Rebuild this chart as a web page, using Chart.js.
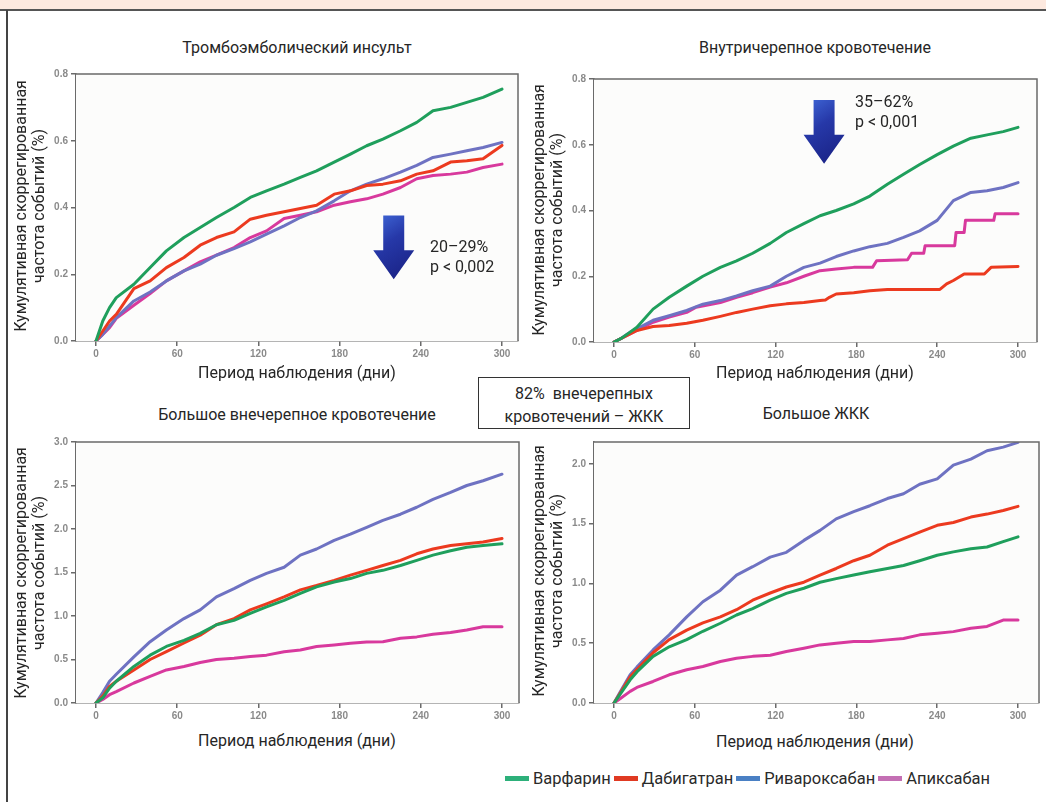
<!DOCTYPE html>
<html>
<head>
<meta charset="utf-8">
<script src="https://cdn.jsdelivr.net/npm/chart.js@4.4.1/dist/chart.umd.min.js"></script>
<style>
html,body{margin:0;padding:0;}
body{width:1046px;height:802px;position:relative;overflow:hidden;background:#fff;font-family:Roboto,"Noto Sans",sans-serif;color:#262626;}
.band{position:absolute;left:0;top:0;width:1046px;height:9px;background:#fde9df;border-bottom:2px solid #555;}
.lborder{position:absolute;left:6px;top:10px;width:2px;height:800px;background:#444;}
canvas{position:absolute;}
.t{position:absolute;white-space:nowrap;transform:translate(-50%,-50%);font-size:16px;line-height:1;z-index:2;}
.yt{position:absolute;white-space:nowrap;transform:translate(-50%,-50%) rotate(-90deg);font-size:16px;line-height:18px;text-align:center;z-index:2;}
.note{position:absolute;font-size:16px;line-height:20px;z-index:2;white-space:nowrap;}
.box{position:absolute;left:478px;top:377px;width:212px;height:52px;border:1.5px solid #333;background:#fff;font-size:16px;line-height:23px;text-align:center;z-index:3;padding-top:4px;box-sizing:border-box;}
.legend{position:absolute;left:505px;top:769px;display:flex;align-items:center;font-size:16.5px;white-space:nowrap;color:#2a2a2a;}
.legend .sw{display:inline-block;width:24px;height:5px;margin-right:4px;}
.legend .lab{margin-right:3px;}
</style>
</head>
<body>
<div class="band"></div>
<div class="lborder"></div>

<canvas id="c1"></canvas>
<canvas id="c2"></canvas>
<canvas id="c3"></canvas>
<canvas id="c4"></canvas>

<div class="t" style="left:297px;top:48px">Тромбоэмболический инсульт</div>
<div class="t" style="left:815px;top:48px">Внутричерепное кровотечение</div>
<div class="t" style="left:297px;top:415px">Большое внечерепное кровотечение</div>
<div class="t" style="left:816px;top:414px">Большое ЖКК</div>

<div class="t" style="left:297px;top:373px">Период наблюдения (дни)</div>
<div class="t" style="left:815px;top:373px">Период наблюдения (дни)</div>
<div class="t" style="left:297px;top:741px">Период наблюдения (дни)</div>
<div class="t" style="left:815px;top:742px">Период наблюдения (дни)</div>

<div class="yt" style="left:30px;top:206px">Кумулятивная скоррегированная<br>частота событий (%)</div>
<div class="yt" style="left:548px;top:210px">Кумулятивная скоррегированная<br>частота событий (%)</div>
<div class="yt" style="left:30px;top:573px">Кумулятивная скоррегированная<br>частота событий (%)</div>
<div class="yt" style="left:548px;top:571px">Кумулятивная скоррегированная<br>частота событий (%)</div>

<div class="note" style="left:430px;top:237px">20–29%<br>p &lt; 0,002</div>
<div class="note" style="left:855px;top:92px">35–62%<br>p &lt; 0,001</div>

<div class="box">82%&nbsp; внечерепных<br>кровотечений – ЖКК</div>

<div class="legend">
  <span class="sw" style="background:#2db07a"></span><span class="lab">Варфарин</span>
  <span class="sw" style="background:#e03a22"></span><span class="lab">Дабигатран</span>
  <span class="sw" style="background:#4a80c4"></span><span class="lab">Ривароксабан</span>
  <span class="sw" style="background:#c46fb4"></span><span class="lab">Апиксабан</span>
</div>

<script>
// ── Данные ──
const drugs = ['Варфарин', 'Дабигатран', 'Ривароксабан', 'Апиксабан'];
const drugColors = ['#1f9f5c', '#ec3a1f', '#6e72c2', '#d8399d'];

const xTicks = [0, 60, 120, 180, 240, 300];
const yTicksSmall = [0, 0.2, 0.4, 0.6, 0.8];
const yTicksMajor = [0, 0.5, 1.0, 1.5, 2.0, 2.5, 3.0];
const yTicksGi = [0, 0.5, 1.0, 1.5, 2.0];

// дни наблюдения (левые панели / правые панели)
const daysA = [0,5,10,15,28,40,52,65,77,89,102,114,126,139,151,163,176,188,200,212,225,237,249,262,274,286,300];
const daysB = [0,5,12,17,29,41,54,66,79,91,103,116,128,141,153,165,178,190,203,215,227,240,252,265,277,289,300];

// Тромбоэмболический инсульт
const strokeWarf = [0,0.06,0.10,0.13,0.17,0.22,0.27,0.31,0.34,0.37,0.40,0.43,0.45,0.47,0.49,0.51,0.536,0.56,0.585,0.605,0.63,0.655,0.69,0.70,0.715,0.73,0.755];
const strokeDabi = [0,0.03,0.06,0.08,0.157,0.18,0.22,0.25,0.287,0.31,0.327,0.365,0.377,0.387,0.397,0.407,0.44,0.45,0.466,0.47,0.48,0.50,0.51,0.536,0.54,0.546,0.586];
const strokeRiva = [0,0.02,0.045,0.07,0.12,0.147,0.18,0.21,0.23,0.257,0.277,0.297,0.32,0.345,0.37,0.39,0.42,0.45,0.47,0.486,0.506,0.526,0.55,0.56,0.57,0.58,0.595];
const strokeApix = [0,0.02,0.04,0.068,0.107,0.142,0.18,0.21,0.237,0.257,0.28,0.31,0.33,0.367,0.377,0.387,0.407,0.417,0.426,0.44,0.46,0.486,0.496,0.50,0.506,0.52,0.53];

// Внутричерепное кровотечение
const ichWarf = [0,0.01,0.03,0.045,0.10,0.136,0.17,0.20,0.227,0.247,0.27,0.30,0.333,0.36,0.384,0.40,0.42,0.444,0.48,0.51,0.54,0.57,0.596,0.62,0.63,0.64,0.653];
const ichRiva = [0,0.01,0.03,0.04,0.066,0.08,0.096,0.115,0.126,0.14,0.156,0.17,0.20,0.227,0.24,0.26,0.277,0.29,0.30,0.318,0.338,0.37,0.43,0.455,0.46,0.47,0.485];
const ichDabiDays = [0,17,29,41,54,66,79,91,103,116,128,141,153,157,160,165,178,190,203,242,247,252,260,275,280,300];
const ichDabi = [0,0.035,0.047,0.05,0.057,0.066,0.078,0.09,0.10,0.11,0.116,0.12,0.126,0.128,0.136,0.146,0.15,0.156,0.16,0.16,0.177,0.187,0.207,0.207,0.227,0.23];
const ichApixDays = [0,17,29,41,54,61,79,91,103,116,128,141,153,165,178,192,195,218,221,230,231,253,254,260,261,282,283,300];
const ichApix = [0,0.035,0.06,0.076,0.09,0.106,0.12,0.136,0.15,0.167,0.18,0.2,0.217,0.222,0.227,0.227,0.247,0.25,0.27,0.27,0.293,0.293,0.333,0.333,0.37,0.37,0.39,0.39];

// Большое внечерепное кровотечение
const majWarf = [0,0.06,0.17,0.25,0.42,0.55,0.65,0.72,0.80,0.90,0.95,1.03,1.105,1.18,1.26,1.335,1.39,1.43,1.49,1.525,1.58,1.64,1.70,1.75,1.79,1.81,1.83];
const majDabi = [0,0.08,0.19,0.25,0.38,0.50,0.59,0.69,0.78,0.90,0.97,1.07,1.14,1.22,1.30,1.35,1.41,1.47,1.525,1.58,1.64,1.715,1.77,1.81,1.83,1.85,1.89];
const majRiva = [0,0.12,0.25,0.33,0.53,0.705,0.84,0.97,1.07,1.22,1.315,1.41,1.49,1.56,1.70,1.77,1.87,1.94,2.02,2.10,2.17,2.25,2.34,2.42,2.50,2.555,2.63];
const majApix = [0,0.04,0.095,0.13,0.23,0.305,0.38,0.42,0.465,0.50,0.515,0.535,0.55,0.59,0.61,0.65,0.667,0.686,0.70,0.705,0.745,0.76,0.79,0.81,0.84,0.877,0.877];

// Большое ЖКК
const giWarf = [0,0.08,0.194,0.26,0.39,0.47,0.53,0.60,0.667,0.736,0.79,0.86,0.917,0.96,1.01,1.04,1.07,1.097,1.125,1.15,1.19,1.236,1.264,1.29,1.305,1.35,1.39];
const giDabi = [0,0.09,0.22,0.28,0.42,0.53,0.61,0.67,0.72,0.78,0.86,0.92,0.97,1.01,1.07,1.125,1.19,1.236,1.32,1.375,1.43,1.486,1.51,1.555,1.58,1.61,1.645];
const giRiva = [0,0.1,0.236,0.3,0.444,0.57,0.72,0.847,0.944,1.07,1.14,1.22,1.26,1.36,1.444,1.54,1.60,1.65,1.71,1.75,1.83,1.875,1.99,2.04,2.11,2.14,2.18];
const giApix = [0,0.04,0.097,0.13,0.18,0.236,0.278,0.305,0.347,0.375,0.39,0.40,0.43,0.458,0.486,0.50,0.514,0.514,0.528,0.54,0.57,0.583,0.597,0.625,0.64,0.694,0.694];

const pts = (xs, ys) => xs.map((x, i) => ({ x, y: ys[i] }));

// ── Раскладка панелей (пиксели области графика) ──
const panels = [
  { id:'c1', L:76,  T:73,  R:518,  B:341, x0:96,  x300:502,  yMax:0.8,   yTicks:yTicksSmall,
    series:[pts(daysA,strokeWarf), pts(daysA,strokeDabi), pts(daysA,strokeRiva), pts(daysA,strokeApix)],
    arrow:{ x:220, top:0.376, tip:0.185 } },
  { id:'c2', L:594, T:78,  R:1037, B:342, x0:614, x300:1018, yMax:0.8,   yTicks:yTicksSmall,
    series:[pts(daysB,ichWarf), pts(ichDabiDays,ichDabi), pts(daysB,ichRiva), pts(ichApixDays,ichApix)],
    arrow:{ x:156, top:0.736, tip:0.542 } },
  { id:'c3', L:76,  T:441, R:519,  B:703, x0:96,  x300:502,  yMax:3.0,   yTicks:yTicksMajor,
    series:[pts(daysA,majWarf), pts(daysA,majDabi), pts(daysA,majRiva), pts(daysA,majApix)] },
  { id:'c4', L:594, T:441, R:1039, B:703, x0:614, x300:1018, yMax:2.183, yTicks:yTicksGi,
    series:[pts(daysB,giWarf), pts(daysB,giDabi), pts(daysB,giRiva), pts(daysB,giApix)] }
];

const Y_W = 40, X_H = 28, PAD = 8;

// рамка и фон области графика
const framePlugin = {
  id: 'frame',
  beforeDatasetsDraw(chart) {
    const { ctx, chartArea: a } = chart;
    ctx.save();
    ctx.fillStyle = '#fcfcfb';
    ctx.fillRect(a.left, a.top, a.right - a.left, a.bottom - a.top);
    ctx.restore();
  },
  afterDraw(chart) {
    const { ctx, chartArea: a } = chart;
    ctx.save();
    ctx.strokeStyle = '#6a6a6a';
    ctx.lineWidth = 1.5;
    ctx.beginPath();
    ctx.moveTo(a.left, a.top); ctx.lineTo(a.right, a.top); ctx.lineTo(a.right, a.bottom);
    ctx.stroke();
    ctx.restore();
  }
};

// синяя стрелка вниз
const arrowPlugin = {
  id: 'arrow',
  afterDatasetsDraw(chart, args, o) {
    if (!o || o.x === undefined) return;
    const { ctx, scales: { x, y } } = chart;
    const cx = x.getPixelForValue(o.x), top = y.getPixelForValue(o.top), tip = y.getPixelForValue(o.tip);
    const hs = 10.5, hh = 20.5, hb = tip - 29;
    const g = ctx.createLinearGradient(cx - hh, top, cx + hh, tip);
    g.addColorStop(0, '#4068d8');
    g.addColorStop(0.4, '#2638a8');
    g.addColorStop(1, '#181f80');
    ctx.save();
    ctx.beginPath();
    ctx.moveTo(cx - hs, top); ctx.lineTo(cx + hs, top); ctx.lineTo(cx + hs, hb);
    ctx.lineTo(cx + hh, hb); ctx.lineTo(cx, tip); ctx.lineTo(cx - hh, hb); ctx.lineTo(cx - hs, hb);
    ctx.closePath();
    ctx.fillStyle = g;
    ctx.fill();
    ctx.restore();
  }
};

const tickFont = { family: '"Liberation Sans", Arial, sans-serif', size: 10, weight: 'bold' };

panels.forEach(p => {
  const cv = document.getElementById(p.id);
  const W = p.R - p.L + Y_W + PAD, H = p.B - p.T + PAD + X_H;
  cv.width = W; cv.height = H;
  cv.style.left = (p.L - Y_W) + 'px';
  cv.style.top = (p.T - PAD) + 'px';
  const pxDay = (p.x300 - p.x0) / 300;

  new Chart(cv, {
    type: 'line',
    data: {
      datasets: p.series.map((s, i) => ({
        label: drugs[i], data: s,
        borderColor: drugColors[i], backgroundColor: drugColors[i],
        borderWidth: 3, pointRadius: 0, tension: 0, fill: false,
        borderJoinStyle: 'round', borderCapStyle: 'round'
      }))
    },
    options: {
      responsive: false, animation: false, devicePixelRatio: 1,
      layout: { padding: { top: PAD, right: PAD, left: 0, bottom: 0 } },
      plugins: { legend: { display: false }, tooltip: { enabled: false }, arrow: p.arrow || {} },
      scales: {
        x: {
          type: 'linear',
          min: (p.L - p.x0) / pxDay, max: (p.R - p.x0) / pxDay,
          afterBuildTicks: sc => { sc.ticks = xTicks.map(v => ({ value: v })); },
          afterFit: sc => { sc.height = X_H; },
          ticks: { color: '#8a8a8a', font: tickFont, padding: 2, callback: v => String(v), maxRotation: 0 },
          grid: { drawOnChartArea: false, drawTicks: true, tickLength: 5, color: '#6a6a6a', lineWidth: 1.5 },
          border: { display: true, color: '#6a6a6a', width: 1.5 }
        },
        y: {
          type: 'linear', min: 0, max: p.yMax,
          afterBuildTicks: sc => { sc.ticks = p.yTicks.map(v => ({ value: v })); },
          afterFit: sc => { sc.width = Y_W; },
          ticks: { color: '#8a8a8a', font: tickFont, padding: 3, callback: v => v.toFixed(1) },
          grid: { drawOnChartArea: false, drawTicks: true, tickLength: 5, color: '#6a6a6a', lineWidth: 1.5 },
          border: { display: true, color: '#6a6a6a', width: 1.5 }
        }
      }
    },
    plugins: [framePlugin, arrowPlugin]
  });
});
</script>
</body>
</html>
